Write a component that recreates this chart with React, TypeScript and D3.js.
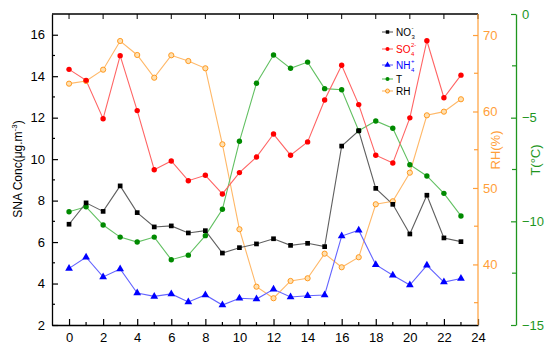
import { useEffect, useRef } from "react";
import * as d3 from "d3";

// hourly values
const hours = [0, 1, 2, 3, 4, 5, 6, 7, 8, 9, 10, 11, 12, 13, 14, 15, 16, 17, 18, 19, 20, 21, 22, 23];
const no3 = [6.86, 7.89, 7.48, 8.71, 7.42, 6.73, 6.78, 6.44, 6.55, 5.47, 5.73, 5.91, 6.16, 5.84, 5.94, 5.78, 10.63, 11.37, 8.59, 7.82, 6.39, 8.26, 6.2, 6.02];
const so4 = [14.33, 13.8, 11.95, 14.99, 12.34, 9.49, 9.91, 8.96, 9.22, 8.32, 9.35, 10.1, 11.21, 10.19, 10.83, 12.85, 14.53, 12.63, 10.19, 9.81, 11.99, 15.71, 12.96, 14.05];
const nh4 = [4.73, 5.27, 4.32, 4.7, 3.54, 3.38, 3.5, 3.11, 3.45, 2.96, 3.29, 3.25, 3.72, 3.35, 3.41, 3.45, 6.29, 6.57, 4.91, 4.4, 3.93, 4.88, 4.07, 4.24];
const temp = [-9.54, -9.3, -10.18, -10.76, -11.0, -10.76, -11.85, -11.63, -10.69, -9.42, -6.14, -3.34, -1.98, -2.62, -2.32, -3.6, -3.65, -5.63, -5.16, -5.51, -7.27, -7.81, -8.65, -9.74];
const rh = [63.64, 63.99, 65.47, 69.22, 67.39, 64.42, 67.35, 66.6, 65.65, 55.71, 44.6, 37.09, 35.58, 37.84, 38.19, 41.41, 39.63, 40.94, 47.87, 48.26, 52.0, 59.5, 59.98, 61.6];

const hourTicks = [0, 2, 4, 6, 8, 10, 12, 14, 16, 18, 20, 22, 24];
const hourMinor = [1, 3, 5, 7, 9, 11, 13, 15, 17, 19, 21, 23];
const concTicks = [2, 4, 6, 8, 10, 12, 14, 16];
const concMinor = [3, 5, 7, 9, 11, 13, 15];
const rhTicks = [40, 50, 60, 70];
const rhMinor = [35, 45, 55, 65];
const tTicks = [0, -5, -10, -15];
const tMinor = [-2.5, -7.5, -12.5];

const ORANGE = "#ff9f3a";
const GREEN = "#1e961e";

const App = () => {
  const ref = useRef<SVGSVGElement>(null);

  useEffect(() => {
    const svg = d3.select(ref.current);
    svg.selectAll("*").remove();
    const font = "'Liberation Sans', Arial, sans-serif";

    const left = 52, right = 478, top = 14, bottom = 325;
    const x = d3.scaleLinear().domain([-1, 24]).range([left, right]);
    const yC = d3.scaleLinear().domain([2, 17]).range([bottom, top]);
    const yRH = d3.scaleLinear().domain([32.08, 72.75]).range([bottom, top]);
    const yT = d3.scaleLinear().domain([-15, 0]).range([bottom, top]);

    const styleAxis = (g: any, color: string) => {
      g.selectAll("path").attr("stroke", color).attr("stroke-width", 1.3);
      g.selectAll("line").attr("stroke", color).attr("stroke-width", 1.2);
      g.selectAll("text").attr("fill", color).attr("font-size", 13).attr("font-family", font);
    };

    // top border
    svg.append("line").attr("x1", left).attr("x2", right).attr("y1", top).attr("y2", top)
      .attr("stroke", "#000").attr("stroke-width", 1.3);
    svg.append("g").selectAll("line").data(hourTicks).join("line")
      .attr("x1", (d) => x(d)).attr("x2", (d) => x(d)).attr("y1", top).attr("y2", top + 5)
      .attr("stroke", "#000");

    // bottom axis
    const xAxis = svg.append("g").attr("transform", `translate(0,${bottom})`)
      .call(d3.axisBottom(x).tickValues(hourTicks).tickSize(-6).tickSizeOuter(0).tickPadding(8));
    styleAxis(xAxis, "#000");
    xAxis.selectAll(".minor").data(hourMinor).join("line").attr("class", "minor")
      .attr("x1", (d) => x(d)).attr("x2", (d) => x(d)).attr("y1", 0).attr("y2", -3)
      .attr("stroke", "#000").attr("stroke-width", 1.2);

    // left axis
    const yAxis = svg.append("g").attr("transform", `translate(${left},0)`)
      .call(d3.axisLeft(yC).tickValues(concTicks).tickSize(-6).tickSizeOuter(0).tickPadding(7));
    styleAxis(yAxis, "#000");
    yAxis.selectAll(".minor").data(concMinor).join("line").attr("class", "minor")
      .attr("x1", 0).attr("x2", 3).attr("y1", (d) => yC(d)).attr("y2", (d) => yC(d))
      .attr("stroke", "#000").attr("stroke-width", 1.2);

    // RH axis
    const rhAxis = svg.append("g").attr("transform", `translate(${right},0)`)
      .call(d3.axisRight(yRH).tickValues(rhTicks).tickSize(-5).tickSizeOuter(0).tickPadding(5));
    rhAxis.select(".domain").remove();
    rhAxis.append("line").attr("x1", 0).attr("x2", 0).attr("y1", top).attr("y2", bottom);
    styleAxis(rhAxis, ORANGE);
    rhAxis.selectAll(".minor").data(rhMinor).join("line").attr("class", "minor")
      .attr("x1", 0).attr("x2", -4).attr("y1", (d) => yRH(d)).attr("y2", (d) => yRH(d))
      .attr("stroke", ORANGE).attr("stroke-width", 1.2);

    // T axis
    const tAxis = svg.append("g").attr("transform", "translate(516,0)")
      .call(d3.axisRight(yT).tickValues(tTicks).tickSize(-5).tickSizeOuter(0).tickPadding(6));
    styleAxis(tAxis, GREEN);
    tAxis.selectAll(".minor").data(tMinor).join("line").attr("class", "minor")
      .attr("x1", 0).attr("x2", -4).attr("y1", (d) => yT(d)).attr("y2", (d) => yT(d))
      .attr("stroke", GREEN).attr("stroke-width", 1.2);

    // axis titles
    const yTitle = svg.append("text").attr("transform", "translate(22,169) rotate(-90)")
      .attr("text-anchor", "middle").attr("font-size", 12).attr("font-family", font).attr("fill", "#000");
    yTitle.append("tspan").text("SNA Conc(μg.m");
    yTitle.append("tspan").attr("font-size", 8).attr("dy", -5).text("-3");
    yTitle.append("tspan").attr("dy", 5).text(")");

    svg.append("text").attr("transform", "translate(500,150) rotate(-90)")
      .attr("text-anchor", "middle").attr("font-size", 13).attr("font-family", font)
      .attr("fill", ORANGE).text("RH(%)");
    svg.append("text").attr("transform", "translate(540,160) rotate(-90)")
      .attr("text-anchor", "middle").attr("font-size", 13).attr("font-family", font)
      .attr("fill", GREEN).text("T(°C)");

    // series
    const lineC = (vals: number[]) =>
      d3.line<number>().x((_, i) => x(hours[i])).y((d) => yC(d))(vals);
    const lineRH = d3.line<number>().x((_, i) => x(hours[i])).y((d) => yRH(d));
    const lineT = d3.line<number>().x((_, i) => x(hours[i])).y((d) => yT(d));

    svg.append("path").attr("d", lineRH(rh)).attr("fill", "none").attr("stroke", "#ffb868").attr("stroke-width", 1.1);
    svg.append("path").attr("d", lineT(temp)).attr("fill", "none").attr("stroke", "#62c062").attr("stroke-width", 1.1);
    svg.append("path").attr("d", lineC(so4)).attr("fill", "none").attr("stroke", "#ff6464").attr("stroke-width", 1.1);
    svg.append("path").attr("d", lineC(nh4)).attr("fill", "none").attr("stroke", "#6464ff").attr("stroke-width", 1.1);
    svg.append("path").attr("d", lineC(no3)).attr("fill", "none").attr("stroke", "#606060").attr("stroke-width", 1.1);

    const sq = d3.symbol().type(d3.symbolSquare).size(22);
    const tri = d3.symbol().type(d3.symbolTriangle).size(26);
    const sqSmall = d3.symbol().type(d3.symbolSquare).size(12);
    const triSmall = d3.symbol().type(d3.symbolTriangle).size(16);

    svg.append("g").selectAll("circle").data(rh).join("circle")
      .attr("cx", (_, i) => x(hours[i])).attr("cy", (d) => yRH(d)).attr("r", 2.6)
      .attr("fill", "#ffe0b0").attr("stroke", "#ff9a20").attr("stroke-width", 1);
    svg.append("g").selectAll("circle").data(temp).join("circle")
      .attr("cx", (_, i) => x(hours[i])).attr("cy", (d) => yT(d)).attr("r", 2.7).attr("fill", "#008a00");
    svg.append("g").selectAll("circle").data(so4).join("circle")
      .attr("cx", (_, i) => x(hours[i])).attr("cy", (d) => yC(d)).attr("r", 2.7).attr("fill", "#ff0000");
    svg.append("g").selectAll("path").data(nh4).join("path")
      .attr("transform", (d, i) => `translate(${x(hours[i])},${yC(d)})`).attr("d", tri).attr("fill", "#0000ff");
    svg.append("g").selectAll("path").data(no3).join("path")
      .attr("transform", (d, i) => `translate(${x(hours[i])},${yC(d)})`).attr("d", sq).attr("fill", "#000");

    // legend
    const lg = svg.append("g").attr("font-family", font).attr("font-size", 10);
    const items = [
      { y: 32, lc: "#606060", tc: "#000", base: "NO", sup: "-", sub: "3", mark: "sq", mc: "#000" },
      { y: 49, lc: "#ff6464", tc: "#ff0000", base: "SO", sup: "2-", sub: "4", mark: "c", mc: "#ff0000" },
      { y: 65, lc: "#6464ff", tc: "#0000ff", base: "NH", sup: "+", sub: "4", mark: "tri", mc: "#0000ff" },
      { y: 79, lc: "#62c062", tc: "#000", base: "T", sup: "", sub: "", mark: "c", mc: "#008a00" },
      { y: 91, lc: "#ffb868", tc: "#000", base: "RH", sup: "", sub: "", mark: "o", mc: "#ff9a20" },
    ];
    items.forEach((it) => {
      lg.append("line").attr("x1", 382).attr("x2", 393).attr("y1", it.y).attr("y2", it.y)
        .attr("stroke", it.lc).attr("stroke-width", 1.1);
      if (it.mark === "sq") {
        lg.append("path").attr("transform", `translate(387.5,${it.y})`).attr("d", sqSmall).attr("fill", it.mc);
      } else if (it.mark === "tri") {
        lg.append("path").attr("transform", `translate(387.5,${it.y})`).attr("d", triSmall).attr("fill", it.mc);
      } else if (it.mark === "o") {
        lg.append("circle").attr("cx", 387.5).attr("cy", it.y).attr("r", 2)
          .attr("fill", "#ffe0b0").attr("stroke", it.mc);
      } else {
        lg.append("circle").attr("cx", 387.5).attr("cy", it.y).attr("r", 2).attr("fill", it.mc);
      }
      const t = lg.append("text").attr("x", 396).attr("y", it.y + 3.6).attr("fill", it.tc).text(it.base);
      if (it.sup) {
        const w = (t.node() as SVGTextElement).getComputedTextLength();
        lg.append("text").attr("x", 396 + w + 0.5).attr("y", it.y - 2).attr("font-size", 6)
          .attr("fill", it.tc).text(it.sup);
        lg.append("text").attr("x", 396 + w + 0.5).attr("y", it.y + 7).attr("font-size", 6)
          .attr("fill", it.tc).text(it.sub);
      }
    });
  }, []);

  return (
    <svg
      ref={ref}
      width={550}
      height={353}
      style={{ position: "absolute", left: 0, top: 0, background: "#fff" }}
    />
  );
};

export default App;
